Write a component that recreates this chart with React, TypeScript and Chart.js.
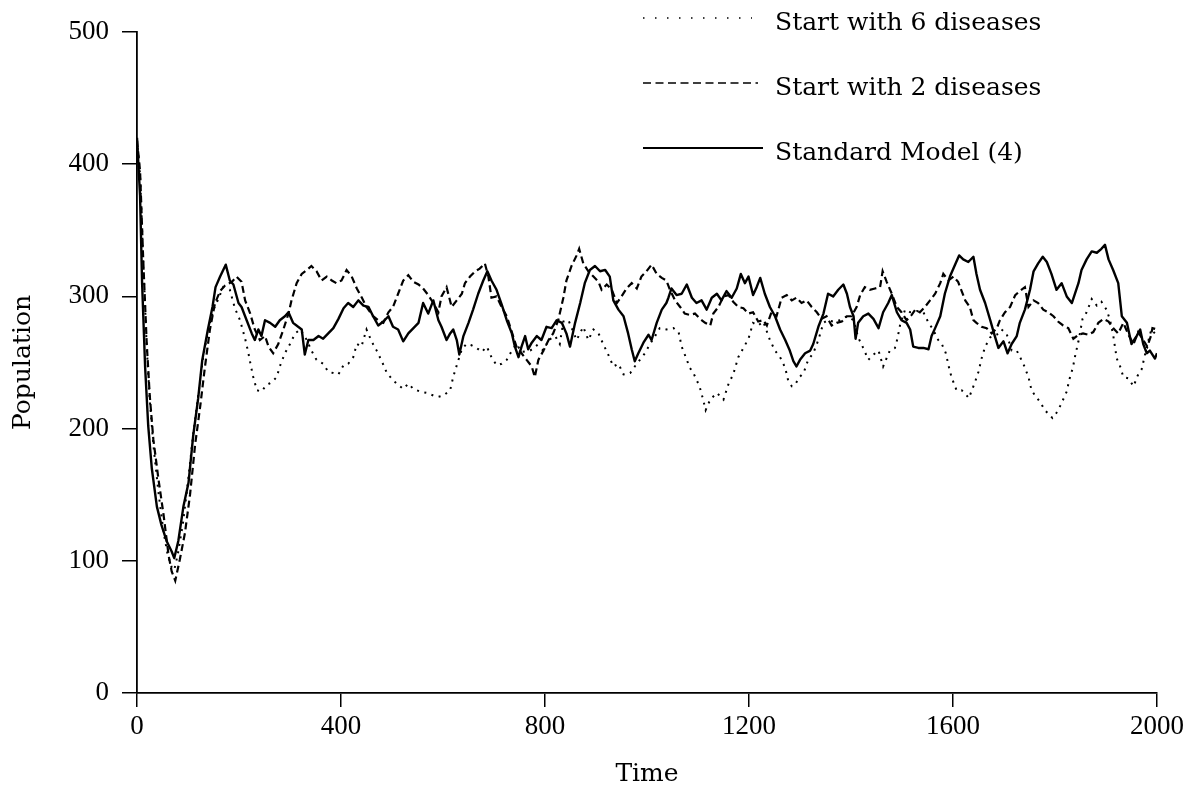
import React, { useEffect, useRef } from "react";
import { Chart, registerables } from "chart.js";

Chart.register(...registerables);

// Time range and tick labels
const xTicks = [0, 400, 800, 1200, 1600, 2000];
const yTicks = [0, 100, 200, 300, 400, 500];
const seriesLabels = ["Start with 6 diseases", "Start with 2 diseases", "Standard Model (4)"];

// Standard Model (4)  — [time, population]
const standardModel: [number, number][] = [
  [0,420],[6,376],[10,310],[16,246],[22,202],[29,170],[39,141],[48,127],[58,115],[68,107],[73,102],[81,115],[91,141],[101,159],[110,194],[120,223],[128,252],[139,275],[148,292],[154,307],[163,315],[174,324],[182,312],[189,309],[199,295],[205,292],[215,282],[225,272],[231,267],[238,275],[244,270],[251,282],[261,280],[271,277],[280,282],[290,285],[297,288],[306,280],[316,277],[323,275],[329,256],[336,267],[346,267],[356,270],[365,268],[375,272],[385,276],[395,283],[405,291],[414,295],[424,292],[434,297],[444,293],[454,292],[463,285],[473,278],[483,281],[493,285],[502,277],[512,275],[522,266],[532,272],[542,276],[552,280],[561,295],[571,287],[581,297],[591,282],[597,277],[607,267],[614,272],[620,275],[627,267],[632,256],[640,270],[650,280],[659,290],[669,302],[679,312],[687,319],[695,312],[705,305],[715,294],[725,282],[735,272],[741,262],[748,254],[754,262],[761,270],[767,260],[774,265],[784,270],[793,267],[803,277],[813,276],[823,282],[833,280],[842,272],[849,262],[859,280],[869,295],[878,310],[888,320],[898,323],[908,319],[918,320],[927,315],[934,297],[944,290],[954,285],[963,272],[970,260],[976,251],[983,257],[993,265],[1003,271],[1009,267],[1019,280],[1029,290],[1038,295],[1042,299],[1048,306],[1058,301],[1068,302],[1078,309],[1088,299],[1097,295],[1107,297],[1117,290],[1127,299],[1137,302],[1146,297],[1156,304],[1166,299],[1176,306],[1184,317],[1192,310],[1199,315],[1208,301],[1215,307],[1222,314],[1231,302],[1241,292],[1251,285],[1261,275],[1271,267],[1280,259],[1287,251],[1293,247],[1300,252],[1310,257],[1320,259],[1326,264],[1336,277],[1346,287],[1355,302],[1365,300],[1375,305],[1385,309],[1392,302],[1398,292],[1405,285],[1409,268],[1414,280],[1424,285],[1434,287],[1444,283],[1454,276],[1463,288],[1473,295],[1480,301],[1490,288],[1499,282],[1509,280],[1516,275],[1522,262],[1532,261],[1542,261],[1552,260],[1558,270],[1565,276],[1575,285],[1584,302],[1594,315],[1604,324],[1612,331],[1620,328],[1630,326],[1640,330],[1646,317],[1653,305],[1663,295],[1673,282],[1682,270],[1689,261],[1699,266],[1707,257],[1715,264],[1725,270],[1731,280],[1741,290],[1751,305],[1758,319],[1767,325],[1776,330],[1784,326],[1793,317],[1803,305],[1813,310],[1823,300],[1833,295],[1839,302],[1846,310],[1852,320],[1862,328],[1872,334],[1882,333],[1891,336],[1898,339],[1905,328],[1914,320],[1924,310],[1931,285],[1941,280],[1950,264],[1960,270],[1967,275],[1973,264],[1980,257],[1986,259],[1996,253],[2000,257]
];

// Start with 2 diseases — [time, population]
const startWith2: [number, number][] = [
  [0,418],[6,395],[12,330],[19,265],[25,225],[32,192],[42,162],[52,135],[62,104],[68,92],[75,85],[84,101],[94,121],[104,150],[114,188],[124,217],[133,246],[143,275],[153,295],[163,304],[172,308],[186,311],[195,315],[205,311],[212,297],[222,287],[231,275],[241,267],[251,270],[258,262],[267,257],[277,264],[287,275],[297,287],[303,297],[313,310],[323,317],[333,320],[342,323],[352,319],[362,312],[372,315],[382,312],[391,310],[401,312],[411,320],[421,315],[431,306],[441,299],[450,292],[463,285],[473,282],[483,280],[493,288],[502,292],[512,302],[522,312],[532,316],[542,311],[552,309],[561,306],[571,301],[581,295],[591,288],[597,300],[607,307],[617,292],[627,297],[637,302],[643,310],[653,315],[663,319],[672,321],[682,325],[689,315],[695,299],[705,300],[715,292],[725,285],[735,273],[744,262],[754,257],[764,252],[774,247],[780,239],[787,252],[797,259],[807,267],[816,272],[826,282],[836,299],[842,312],[852,323],[862,331],[867,336],[875,325],[885,319],[895,315],[905,311],[911,305],[921,309],[931,305],[941,295],[950,300],[960,306],[970,310],[980,306],[989,315],[999,319],[1009,324],[1019,317],[1029,314],[1038,312],[1045,305],[1055,297],[1065,292],[1074,287],[1084,286],[1094,287],[1104,283],[1114,280],[1124,278],[1130,287],[1140,292],[1150,300],[1160,301],[1169,296],[1179,292],[1189,291],[1199,287],[1208,288],[1218,281],[1228,282],[1235,278],[1244,288],[1254,285],[1264,299],[1274,301],[1284,297],[1293,299],[1303,295],[1313,297],[1323,292],[1333,288],[1342,283],[1352,285],[1362,278],[1372,280],[1382,281],[1392,285],[1401,285],[1411,292],[1418,301],[1427,307],[1437,305],[1447,306],[1457,307],[1462,319],[1470,311],[1480,302],[1490,292],[1499,288],[1509,282],[1519,286],[1526,290],[1535,288],[1545,292],[1555,297],[1565,302],[1575,310],[1581,317],[1591,312],[1601,315],[1610,311],[1617,304],[1624,297],[1633,292],[1640,282],[1646,280],[1656,277],[1666,276],[1676,272],[1686,276],[1692,282],[1702,288],[1712,292],[1722,301],[1731,304],[1741,307],[1748,292],[1758,297],[1767,295],[1777,290],[1787,288],[1797,285],[1806,281],[1816,278],[1826,276],[1836,268],[1846,271],[1855,272],[1865,271],[1875,273],[1885,280],[1895,283],[1905,281],[1914,276],[1924,272],[1934,280],[1944,271],[1954,264],[1963,273],[1973,267],[1981,262],[1988,270],[1991,276],[2000,275]
];

// Start with 6 diseases — [time, population]
const startWith6: [number, number][] = [
  [0,418],[6,392],[12,330],[19,262],[25,222],[32,188],[42,152],[52,122],[60,105],[68,95],[73,93],[80,105],[90,128],[100,160],[110,195],[120,225],[130,255],[140,275],[150,290],[156,295],[169,307],[182,305],[192,291],[202,282],[212,268],[218,258],[223,248],[228,239],[235,229],[244,228],[254,233],[264,235],[274,239],[280,247],[290,257],[300,264],[310,272],[320,275],[333,267],[342,259],[352,252],[365,249],[375,243],[385,242],[395,241],[405,248],[414,249],[424,254],[431,264],[440,262],[450,275],[460,266],[470,259],[480,251],[490,242],[499,238],[509,234],[522,230],[532,234],[542,230],[555,228],[568,227],[581,225],[591,224],[601,225],[614,229],[620,239],[627,248],[637,260],[646,264],[656,263],[666,261],[676,258],[686,262],[695,254],[705,248],[715,249],[725,252],[735,259],[744,264],[754,258],[771,259],[784,263],[797,259],[807,267],[820,270],[829,264],[836,281],[846,282],[862,267],[875,277],[885,267],[895,275],[905,272],[914,264],[924,256],[934,247],[944,249],[954,241],[967,242],[976,247],[986,252],[996,257],[1006,264],[1016,270],[1025,276],[1038,275],[1052,276],[1062,273],[1068,262],[1078,252],[1084,246],[1091,242],[1103,232],[1110,222],[1115,214],[1124,222],[1137,227],[1150,222],[1160,234],[1169,241],[1179,254],[1189,261],[1199,268],[1208,280],[1218,278],[1228,281],[1241,267],[1251,259],[1261,254],[1271,246],[1277,236],[1284,232],[1290,233],[1299,239],[1307,242],[1316,252],[1326,257],[1336,267],[1346,280],[1355,282],[1365,281],[1378,282],[1392,285],[1405,282],[1414,269],[1424,261],[1434,252],[1444,256],[1454,259],[1463,247],[1476,259],[1486,261],[1491,268],[1496,278],[1506,290],[1516,288],[1529,289],[1542,288],[1552,280],[1561,275],[1571,267],[1578,264],[1586,257],[1591,248],[1597,239],[1607,229],[1617,229],[1627,225],[1631,223],[1637,229],[1643,235],[1650,243],[1656,253],[1663,262],[1673,269],[1686,271],[1695,275],[1705,272],[1715,259],[1725,259],[1738,249],[1748,239],[1754,229],[1761,225],[1771,220],[1780,214],[1790,210],[1795,208],[1803,212],[1810,217],[1816,222],[1823,228],[1828,237],[1835,246],[1840,256],[1846,266],[1854,283],[1862,288],[1872,298],[1882,293],[1891,296],[1901,290],[1908,282],[1914,271],[1921,253],[1927,248],[1934,239],[1944,238],[1954,232],[1962,240],[1970,245],[1980,262],[1989,275],[2000,270]
];

const toPoints = (arr: [number, number][]) => arr.map(([x, y]) => ({ x, y }));

const tickFont = { family: '"Liberation Serif", serif', size: 27 };
const titleFont = { family: '"DejaVu Serif", serif', size: 25 };

const legendPlugin = {
  id: "paperLegend",
  afterDraw(chart: any) {
    const ctx = chart.ctx as CanvasRenderingContext2D;
    const rows = [
      { y: 18, x0: 643, x1: 752, dash: [1.5, 10.5], width: 1.6, label: seriesLabels[0] },
      { y: 83, x0: 643, x1: 758, dash: [8, 4.5], width: 1.6, label: seriesLabels[1] },
      { y: 148, x0: 643, x1: 763, dash: [], width: 1.8, label: seriesLabels[2] },
    ];
    ctx.save();
    rows.forEach((r) => {
      ctx.beginPath();
      ctx.setLineDash(r.dash);
      ctx.lineWidth = r.width;
      ctx.strokeStyle = "#000";
      ctx.moveTo(r.x0, r.y);
      ctx.lineTo(r.x1, r.y);
      ctx.stroke();
      ctx.setLineDash([]);
      ctx.fillStyle = "#000";
      ctx.font = '25px "DejaVu Serif", serif';
      ctx.textAlign = "left";
      ctx.textBaseline = "alphabetic";
      ctx.fillText(r.label, 775, r.y + 12);
    });
    ctx.restore();
  },
};

export default function App() {
  const canvasRef = useRef<HTMLCanvasElement | null>(null);

  useEffect(() => {
    document.body.style.margin = "0";
    const canvas = canvasRef.current;
    if (!canvas) return;
    const chart = new Chart(canvas, {
      type: "line",
      data: {
        datasets: [
          {
            label: seriesLabels[2],
            data: toPoints(standardModel),
            borderColor: "#000",
            borderWidth: 2.4,
            pointRadius: 0,
            tension: 0,
            borderJoinStyle: "round",
            order: 0,
          },
          {
            label: seriesLabels[1],
            data: toPoints(startWith2),
            borderColor: "#000",
            borderWidth: 2.2,
            borderDash: [7, 4],
            pointRadius: 0,
            tension: 0,
            order: 1,
          },
          {
            label: seriesLabels[0],
            data: toPoints(startWith6),
            borderColor: "#000",
            borderWidth: 2,
            borderDash: [2, 5.5],
            pointRadius: 0,
            tension: 0,
            order: 2,
          },
        ],
      },
      options: {
        animation: false,
        responsive: false,
        devicePixelRatio: 1,
        layout: { padding: { left: 0, top: 32, right: 31, bottom: 0 } },
        plugins: { legend: { display: false }, tooltip: { enabled: false } },
        scales: {
          x: {
            type: "linear",
            min: 0,
            max: 2000,
            afterBuildTicks: (scale: any) => {
              scale.ticks = xTicks.map((v) => ({ value: v }));
            },
            afterFit: (scale: any) => {
              scale.height = 96;
            },
            ticks: {
              color: "#000",
              font: tickFont,
              padding: 4,
              maxRotation: 0,
              autoSkip: false,
              callback: (value: any) => String(value),
            },
            grid: {
              display: true,
              drawOnChartArea: false,
              drawTicks: true,
              tickLength: 14,
              color: "#000",
              lineWidth: 1.5,
            },
            border: { display: true, color: "#000", width: 1.8 },
            title: {
              display: true,
              text: "Time",
              color: "#000",
              font: titleFont,
              padding: { top: 0, bottom: 0 },
            },
          },
          y: {
            type: "linear",
            min: 0,
            max: 500,
            afterBuildTicks: (scale: any) => {
              scale.ticks = yTicks.map((v) => ({ value: v }));
            },
            afterFit: (scale: any) => {
              scale.width = 137;
            },
            ticks: {
              color: "#000",
              font: tickFont,
              padding: 13,
              autoSkip: false,
              callback: (value: any) => String(value),
            },
            grid: {
              display: true,
              drawOnChartArea: false,
              drawTicks: true,
              tickLength: 15,
              color: "#000",
              lineWidth: 1.5,
            },
            border: { display: true, color: "#000", width: 1.8 },
            title: {
              display: true,
              text: "Population",
              color: "#000",
              font: titleFont,
              padding: { top: 8, bottom: 0 },
            },
          },
        },
      },
      plugins: [legendPlugin],
    });
    return () => chart.destroy();
  }, []);

  return (
    <div style={{ position: "absolute", left: 0, top: 0, width: 1188, height: 789, background: "#fff" }}>
      <canvas ref={canvasRef} width={1188} height={789} style={{ display: "block" }} />
    </div>
  );
}
